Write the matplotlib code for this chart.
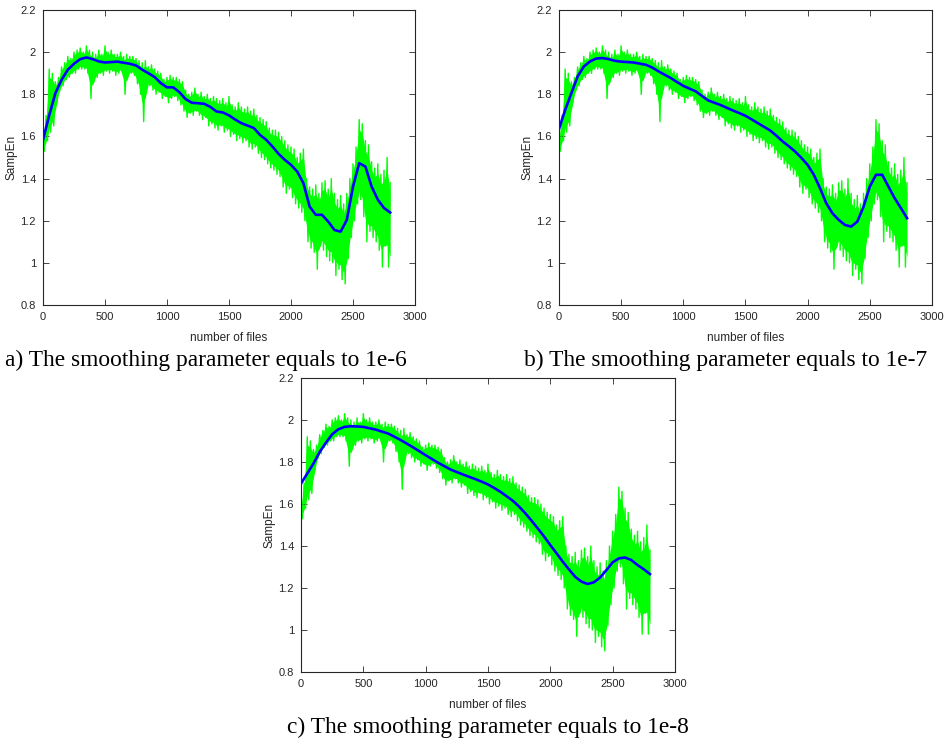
import numpy as np
import matplotlib.pyplot as plt

# raw sample entropy per file, read as local peaks (every 25 files)
# and the troughs between them
peak_files = list(range(0, 2801, 25))
peak_vals = [1.60, 1.70, 1.92, 1.90, 1.86, 1.88, 1.93, 1.95, 1.98, 1.97,
             2.00, 2.01, 2.02, 2.00, 2.03, 2.01, 2.00, 1.99, 2.01, 1.99,
             2.03, 2.00, 2.01, 1.99, 1.99, 2.00, 1.98, 1.99, 1.98, 1.98,
             1.97, 1.96, 1.95, 1.96, 1.93, 1.94, 1.92, 1.91, 1.90, 1.87,
             1.88, 1.89, 1.88, 1.88, 1.87, 1.86, 1.82, 1.80, 1.81, 1.83,
             1.80, 1.81, 1.79, 1.80, 1.78, 1.79, 1.78, 1.77, 1.78, 1.76,
             1.79, 1.75, 1.74, 1.76, 1.74, 1.73, 1.74, 1.72, 1.73, 1.70,
             1.69, 1.68, 1.67, 1.64, 1.63, 1.63, 1.62, 1.60, 1.58, 1.56,
             1.55, 1.54, 1.50, 1.52, 1.54, 1.40, 1.36, 1.35, 1.37, 1.33,
             1.38, 1.39, 1.35, 1.40, 1.33, 1.30, 1.32, 1.28, 1.33, 1.40,
             1.47, 1.55, 1.68, 1.66, 1.58, 1.56, 1.48, 1.45, 1.47, 1.42,
             1.44, 1.50, 1.38]
trough_files = list(range(12, 2800, 25))
trough_vals = [1.53, 1.58, 1.62, 1.65, 1.76, 1.82, 1.84, 1.87, 1.88, 1.90,
               1.90, 1.92, 1.92, 1.92, 1.90, 1.78, 1.86, 1.88, 1.90, 1.89,
               1.91, 1.90, 1.91, 1.89, 1.90, 1.91, 1.80, 1.89, 1.90, 1.89,
               1.85, 1.80, 1.67, 1.84, 1.84, 1.82, 1.80, 1.81, 1.78, 1.79,
               1.76, 1.78, 1.79, 1.77, 1.75, 1.72, 1.69, 1.71, 1.70, 1.72,
               1.70, 1.68, 1.69, 1.65, 1.66, 1.64, 1.63, 1.65, 1.62, 1.63,
               1.60, 1.61, 1.58, 1.59, 1.57, 1.58, 1.55, 1.54, 1.55, 1.52,
               1.50, 1.49, 1.47, 1.45, 1.44, 1.42, 1.41, 1.36, 1.33, 1.35,
               1.31, 1.28, 1.26, 1.24, 1.20, 1.10, 1.07, 1.05, 0.97, 1.08,
               1.06, 1.03, 1.01, 1.00, 0.94, 0.97, 0.92, 0.90, 1.02, 1.12,
               1.20, 1.28, 1.30, 1.22, 1.10, 1.15, 1.12, 1.10, 1.06, 0.98,
               1.08, 0.98]

# smoothing spline fits for three smoothing parameters
fit_files = [0, 50, 100, 150, 200, 250, 300, 350, 400, 450, 500, 600, 700,
             750, 800, 850, 900, 950, 1000, 1050, 1100, 1150, 1200, 1300,
             1350, 1400, 1450, 1500, 1550, 1600, 1700, 1750, 1800, 1850,
             1900, 1950, 2000, 2050, 2100, 2150, 2200, 2250, 2300, 2350,
             2400, 2450, 2500, 2550, 2600, 2650, 2700, 2750, 2800]
fit_1e6 = [1.584, 1.70, 1.806, 1.869, 1.917, 1.945, 1.967, 1.975, 1.967,
           1.956, 1.951, 1.955, 1.945, 1.937, 1.917, 1.90, 1.882, 1.853,
           1.833, 1.833, 1.81, 1.777, 1.76, 1.755, 1.74, 1.718, 1.714, 1.70,
           1.68, 1.663, 1.64, 1.607, 1.584, 1.552, 1.517, 1.489, 1.465,
           1.433, 1.378, 1.267, 1.228, 1.228, 1.196, 1.156, 1.148, 1.204,
           1.362, 1.473, 1.457, 1.362, 1.30, 1.26, 1.239]
fit_1e7 = [1.635, 1.726, 1.806, 1.885, 1.932, 1.956, 1.97, 1.972, 1.967,
           1.959, 1.955, 1.951, 1.94, 1.927, 1.909, 1.893, 1.877, 1.858,
           1.84, 1.827, 1.814, 1.792, 1.771, 1.749, 1.736, 1.723, 1.711,
           1.698, 1.681, 1.663, 1.628, 1.603, 1.576, 1.553, 1.528, 1.498,
           1.465, 1.418, 1.354, 1.283, 1.235, 1.204, 1.18, 1.172, 1.196,
           1.267, 1.362, 1.418, 1.418, 1.362, 1.307, 1.26, 1.212]
fit_1e8 = [1.697, 1.745, 1.793, 1.848, 1.892, 1.932, 1.956, 1.967, 1.97,
           1.969, 1.967, 1.954, 1.935, 1.92, 1.904, 1.887, 1.869, 1.851,
           1.832, 1.814, 1.796, 1.78, 1.764, 1.74, 1.729, 1.718, 1.706,
           1.693, 1.676, 1.658, 1.615, 1.587, 1.555, 1.52, 1.483, 1.445,
           1.404, 1.365, 1.325, 1.288, 1.253, 1.23, 1.219, 1.227, 1.25,
           1.285, 1.322, 1.341, 1.345, 1.333, 1.309, 1.289, 1.266]

x_ticks = [0, 500, 1000, 1500, 2000, 2500, 3000]
y_ticks = [0.8, 1.0, 1.2, 1.4, 1.6, 1.8, 2.0, 2.2]
y_tick_labels = ['0.8', '1', '1.2', '1.4', '1.6', '1.8', '2', '2.2']

captions = ['a) The smoothing parameter equals to 1e-6',
            'b) The smoothing parameter equals to 1e-7',
            'c) The smoothing parameter equals to 1e-8']

GREEN = '#00ff00'
BLUE = '#0000ff'
INK = '#262626'

plt.rcParams['font.family'] = ['Liberation Sans', 'DejaVu Sans']

# merge peaks and troughs into one signal ordered by file index
raw_x = np.array(peak_files + trough_files)
raw_y = np.array(peak_vals + trough_vals)
order = np.argsort(raw_x)
raw_x, raw_y = raw_x[order], raw_y[order]

# solid middle part of the band
tr_at_peaks = np.interp(peak_files, trough_files, trough_vals)
mid = (np.array(peak_vals) + tr_at_peaks) / 2
half = np.abs(np.array(peak_vals) - tr_at_peaks) * 0.38

fig = plt.figure(figsize=(9.49, 7.43), dpi=100)
boxes = [[0.0453, 0.5895, 0.392, 0.397],
         [0.589, 0.5895, 0.393, 0.397],
         [0.3172, 0.0956, 0.394, 0.3957]]


def draw_panel(ax, fit):
    ax.fill_between(peak_files, mid - half, mid + half, color=GREEN, lw=0)
    ax.plot(raw_x, raw_y, color=GREEN, lw=1.0)
    ax.plot(fit_files, fit, color=BLUE, lw=1.9)
    ax.set_xlim(0, 3000)
    ax.set_ylim(0.8, 2.2)
    ax.set_xticks(x_ticks)
    ax.set_yticks(y_ticks)
    ax.set_yticklabels(y_tick_labels)
    ax.tick_params(direction='in', top=True, right=True, length=4,
                   width=0.6, labelsize=8, colors=INK, pad=5)
    for s in ax.spines.values():
        s.set_linewidth(0.8)
        s.set_color(INK)
    ax.set_xlabel('number of files', fontsize=8.5, color=INK, labelpad=7)
    ax.set_ylabel('SampEn', fontsize=8.5, color=INK, labelpad=2)


for box, fit in zip(boxes, [fit_1e6, fit_1e7, fit_1e8]):
    ax = fig.add_axes(box)
    draw_panel(ax, fit)

serif = dict(family='Liberation Serif', fontsize=16.8, color='black',
             va='baseline')
fig.text(5 / 949, 1 - 366 / 743, captions[0], ha='left', **serif)
fig.text(524 / 949, 1 - 366 / 743, captions[1], ha='left', **serif)
fig.text(488 / 949, 1 - 733 / 743, captions[2], ha='center', **serif)

fig.savefig('out.png', dpi=100)
